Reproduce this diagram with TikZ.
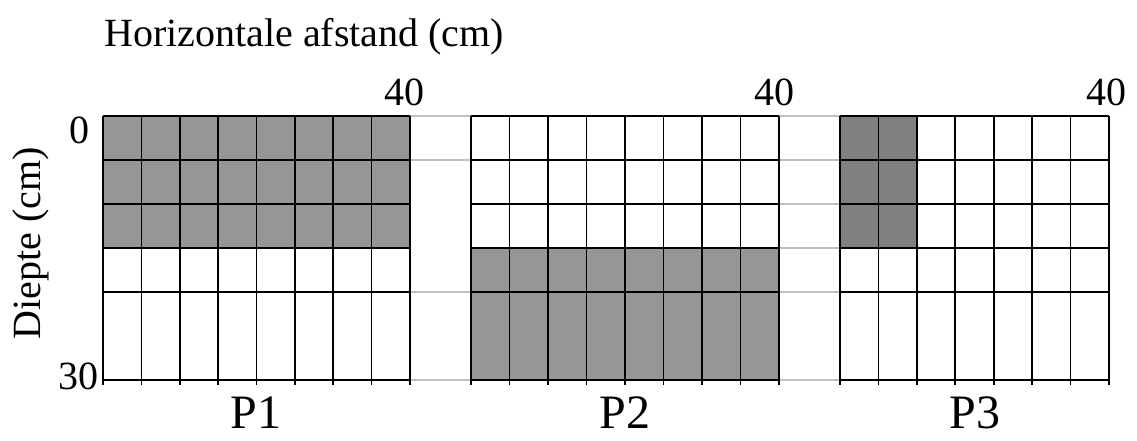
\documentclass[tikz,border=0pt]{standalone}
\usepackage{fontspec}
\setmainfont{Liberation Serif}
\definecolor{shadeA}{RGB}{150,150,150}
\definecolor{shadeB}{RGB}{128,128,128}
\definecolor{gapline}{RGB}{192,192,192}
\tikzset{
  hline/.style={line width=1.6pt, black},
  vline/.style={line width=1.3pt, black},
  gline/.style={line width=1.5pt, gapline},
  lab/.style={font=\fontsize{30}{36}\selectfont, inner sep=0pt},
  plab/.style={font=\fontsize{36}{42}\selectfont, inner sep=0pt, anchor=base},
}
\begin{document}
\begin{tikzpicture}[x=0.75pt,y=-0.75pt]
\useasboundingbox (0,0) rectangle (1137,440);
% shaded cells
\fill[shadeA] (103,116) rectangle (410,248);
\fill[shadeA] (471,248) rectangle (779,380);
\fill[shadeB] (840,116) rectangle (916.9,248);
% gap lines
\foreach \y in {116,160,292,380} \draw[gline] (410,\y) -- (471,\y);
\foreach \y in {116,160,204,248,292,380} \draw[gline] (779,\y) -- (840,\y);
% panels
\foreach \xa/\xb/\n in {103/410/8, 471/779/8, 840/1109/7}{
  \foreach \y in {116,160,204,248,292,380} \draw[hline] (\xa,\y) -- (\xb,\y);
  \foreach \k in {0,...,\n}{
    \pgfmathsetmacro{\xx}{\xa+\k*(\xb-\xa)/\n}
    \draw[vline] (\xx,116) -- (\xx,385);
  }
}
% labels
\node[lab, anchor=base west] (title) at (104,46) {Horizontale afstand (cm)};
\node[lab, rotate=90] (ylab) at (31,243) {Diepte (cm)};
\node[lab, anchor=east] (z0) at (90,130) {0};
\node[lab, anchor=east] (z30) at (99,376) {30};
\node[lab, anchor=base] (f1) at (404,105) {40};
\node[lab, anchor=base] (f2) at (774,105) {40};
\node[lab, anchor=base] (f3) at (1106,105) {40};
\node[plab] (p1) at (256,428) {P1};
\node[plab] (p2) at (625,428) {P2};
\node[plab] (p3) at (975,428) {P3};
\end{tikzpicture}
\end{document}
